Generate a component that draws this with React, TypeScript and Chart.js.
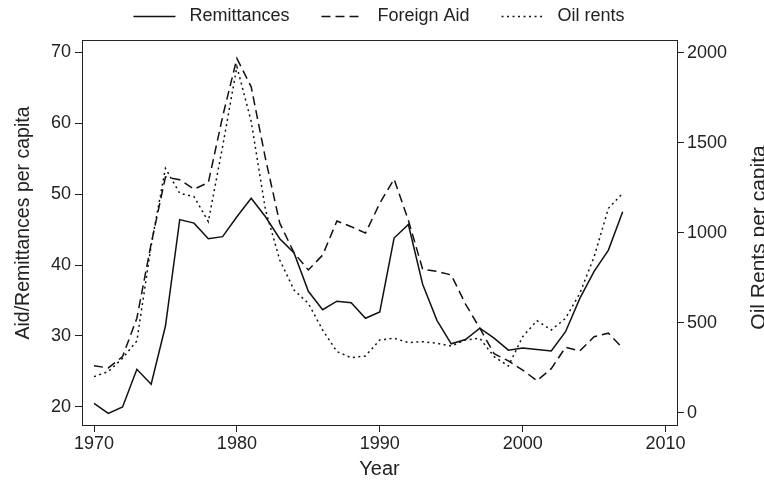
import React, { useEffect, useRef } from "react";
import { Chart, registerables } from "chart.js";

Chart.register(...registerables);

const years = [
  1970, 1971, 1972, 1973, 1974, 1975, 1976, 1977, 1978, 1979,
  1980, 1981, 1982, 1983, 1984, 1985, 1986, 1987, 1988, 1989,
  1990, 1991, 1992, 1993, 1994, 1995, 1996, 1997, 1998, 1999,
  2000, 2001, 2002, 2003, 2004, 2005, 2006, 2007,
];

const remittances = [
  20.5, 19.1, 20.0, 25.3, 23.2, 31.4, 46.4, 45.9, 43.7, 44.0,
  46.8, 49.4, 46.8, 43.7, 41.7, 36.3, 33.7, 34.9, 34.7, 32.5,
  33.4, 43.8, 45.7, 37.3, 32.2, 28.9, 29.5, 31.1, 29.7, 28.0,
  28.3, 28.1, 27.9, 30.6, 35.3, 39.1, 42.1, 47.5,
];

const foreignAid = [
  25.8, 25.5, 27.1, 32.5, 43.0, 52.4, 52.0, 50.7, 51.6, 60.9,
  69.1, 65.1, 55.0, 45.9, 41.7, 39.3, 41.4, 46.2, 45.4, 44.5,
  48.7, 52.1, 46.3, 39.4, 39.1, 38.6, 34.5, 31.1, 27.5, 26.5,
  25.2, 23.7, 25.4, 28.4, 27.9, 29.9, 30.4, 28.3,
];

const oilRents = [
  202, 230, 304, 400, 930, 1359, 1220, 1202, 1063, 1480,
  1924, 1620, 1128, 850, 683, 609, 461, 341, 307, 317,
  406, 415, 391, 396, 387, 372, 406, 415, 313, 261,
  424, 513, 461, 526, 665, 868, 1137, 1220,
];

const xTicks = [1970, 1980, 1990, 2000, 2010];
const leftTicks = [20, 30, 40, 50, 60, 70];
const rightTicks = [0, 500, 1000, 1500, 2000];

const seriesNames = ["Remittances", "Foreign Aid", "Oil rents"];
const xTitle = "Year";
const leftTitle = "Aid/Remittances per capita";
const rightTitle = "Oil Rents per capita";

const FONT = "'Liberation Sans', Arial, Helvetica, sans-serif";
const INK = "#222";
const LINE = "#111";

const toPoints = (vals: number[]) => vals.map((v, i) => ({ x: years[i], y: v }));

const drawVerticalText = (ctx: any, text: string, x: number, y: number, size: number) => {
  ctx.save();
  ctx.translate(x, y);
  ctx.rotate(-Math.PI / 2);
  ctx.font = `${size}px ${FONT}`;
  ctx.fillStyle = INK;
  ctx.textAlign = "center";
  ctx.textBaseline = "middle";
  ctx.fillText(text, 0, 0);
  ctx.restore();
};

const axisTitlesPlugin = {
  id: "axisTitles",
  afterDraw(chart: any) {
    const ctx = chart.ctx;
    const area = chart.chartArea;
    const mid = (area.top + area.bottom) / 2;
    drawVerticalText(ctx, leftTitle, chart.scales.y.left + 23.5, mid - 9.5, 19.5);
    drawVerticalText(ctx, rightTitle, chart.scales.y2.right + 1, mid + 5, 21);
  },
};

export default function App() {
  const ref = useRef<HTMLCanvasElement | null>(null);

  useEffect(() => {
    if (!ref.current) return;
    const axisGrid = {
      display: true,
      drawOnChartArea: false,
      drawTicks: true,
      tickLength: 7,
      color: INK,
      lineWidth: 1,
    };
    const border = { display: true, color: INK, width: 1 };
    const chart = new Chart(ref.current, {
      type: "line",
      data: {
        datasets: [
          {
            label: " " + seriesNames[0],
            data: toPoints(remittances),
            borderColor: LINE,
            backgroundColor: LINE,
            borderWidth: 1.5,
            borderDash: [],
            pointRadius: 0,
            tension: 0,
            xAxisID: "x",
            yAxisID: "y",
          },
          {
            label: " " + seriesNames[1],
            data: toPoints(foreignAid),
            borderColor: LINE,
            backgroundColor: LINE,
            borderWidth: 1.5,
            borderDash: [9, 5],
            pointRadius: 0,
            tension: 0,
            xAxisID: "x",
            yAxisID: "y",
          },
          {
            label: " " + seriesNames[2],
            data: toPoints(oilRents),
            borderColor: LINE,
            backgroundColor: LINE,
            borderWidth: 1.5,
            borderDash: [2, 3.5],
            pointRadius: 0,
            tension: 0,
            xAxisID: "x",
            yAxisID: "y2",
          },
        ],
      },
      options: {
        animation: false,
        responsive: false,
        maintainAspectRatio: false,
        devicePixelRatio: 1,
        layout: { padding: { top: -24.5, right: 6, bottom: 0, left: 0 } },
        plugins: {
          legend: {
            display: true,
            position: "top",
            labels: {
              usePointStyle: true,
              pointStyle: "line",
              pointStyleWidth: 42,
              padding: 32,
              color: INK,
              font: { family: FONT, size: 18 },
              generateLabels: (c: any) => {
                const items = (Chart as any).defaults.plugins.legend.labels.generateLabels(c);
                return items.map((it: any) => {
                  const ds: any = c.data.datasets[it.datasetIndex];
                  return {
                    ...it,
                    pointStyle: "line",
                    lineDash: ds.borderDash || [],
                    lineWidth: ds.borderWidth,
                    strokeStyle: ds.borderColor,
                    fillStyle: ds.borderColor,
                  };
                });
              },
            },
          },
          tooltip: { enabled: false },
        },
        scales: {
          x: {
            type: "linear",
            position: "bottom",
            min: 1969.16,
            max: 2010.8,
            afterBuildTicks: (s: any) => {
              s.ticks = xTicks.map((v) => ({ value: v }));
            },
            afterFit: (s: any) => {
              s.height = 56;
            },
            grid: axisGrid,
            border,
            ticks: {
              color: INK,
              padding: 1,
              maxRotation: 0,
              autoSkip: false,
              font: { family: FONT, size: 18 },
              callback: (v: any) => String(v),
            },
            title: {
              display: true,
              text: xTitle,
              color: INK,
              font: { family: FONT, size: 20 },
              padding: { top: 0, bottom: 0 },
            },
          },
          xTop: {
            type: "linear",
            position: "top",
            min: 1969.16,
            max: 2010.8,
            grid: { display: false },
            border,
            ticks: { display: false },
            afterFit: (s: any) => {
              s.height = 4.5;
            },
          },
          y: {
            type: "linear",
            position: "left",
            min: 17.46,
            max: 71.7,
            afterBuildTicks: (s: any) => {
              s.ticks = leftTicks.map((v) => ({ value: v }));
            },
            afterFit: (s: any) => {
              s.width = 82;
            },
            grid: axisGrid,
            border,
            ticks: {
              color: INK,
              padding: 4,
              font: { family: FONT, size: 18 },
              callback: (v: any) => String(v),
            },
          },
          y2: {
            type: "linear",
            position: "right",
            min: -66.7,
            max: 2072,
            afterBuildTicks: (s: any) => {
              s.ticks = rightTicks.map((v) => ({ value: v }));
            },
            afterFit: (s: any) => {
              s.width = 81;
            },
            grid: axisGrid,
            border,
            ticks: {
              color: INK,
              padding: 3,
              font: { family: FONT, size: 18 },
              callback: (v: any) => String(v),
            },
          },
        },
      },
      plugins: [axisTitlesPlugin],
    } as any);
    return () => chart.destroy();
  }, []);

  return (
    <div style={{ position: "absolute", left: 0, top: 0, width: 764, height: 481, background: "#fff" }}>
      <canvas ref={ref} width={764} height={481} style={{ display: "block" }} />
    </div>
  );
}
